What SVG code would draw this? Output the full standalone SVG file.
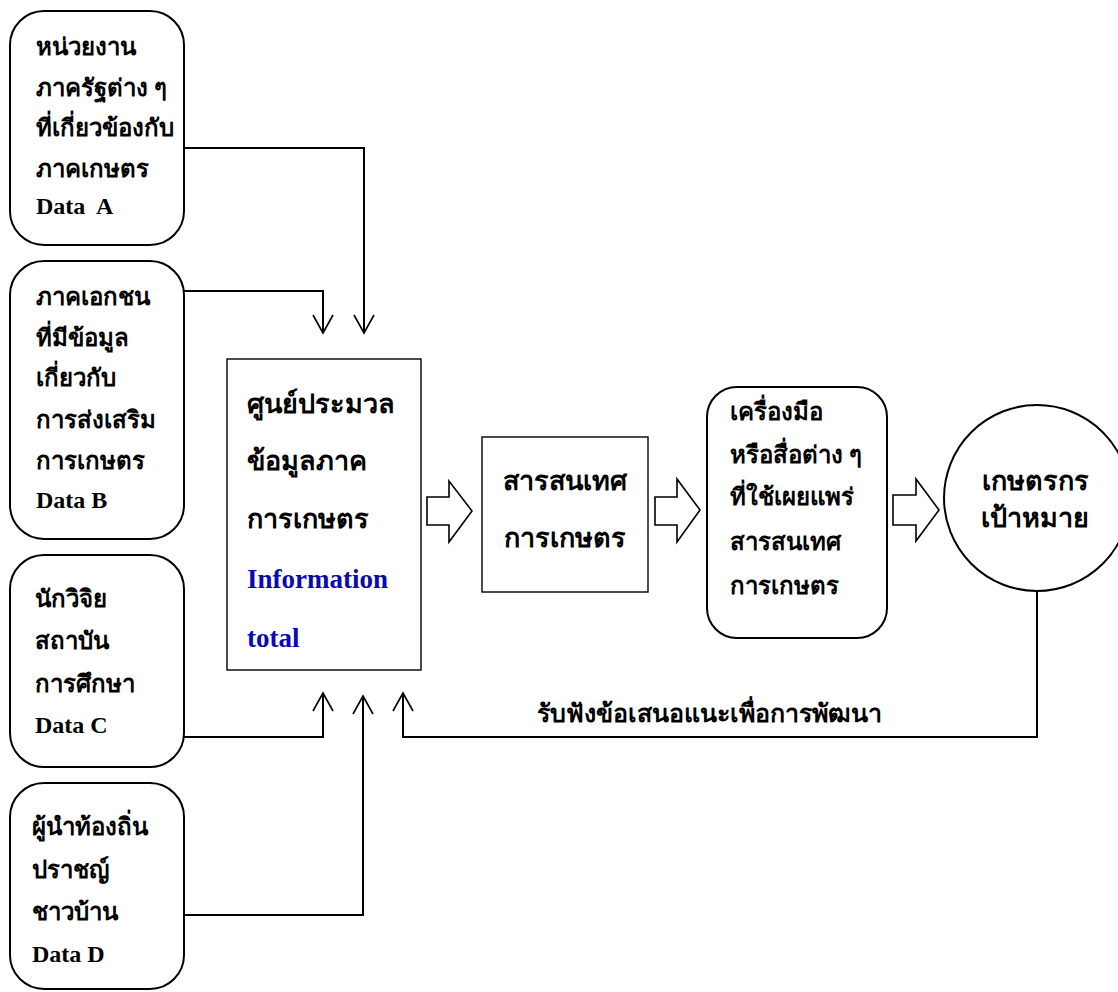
<svg xmlns="http://www.w3.org/2000/svg" width="1118" height="992" viewBox="0 0 1118 992">
  <style>
    .node { fill: #ffffff; stroke: #000000; }
    .rounded { stroke-width: 2; }
    .plain { stroke-width: 1.4; }
    .t { font-family: "Liberation Serif", "Times New Roman", serif; font-weight: bold; fill: #000000; }
    .s { font-size: 24px; }
    .l { font-size: 25px; }
    .m { font-size: 27px; }
    .blue { fill: #0a0ab4; }
    .wire { fill: none; stroke: #000000; stroke-width: 2; }
    .block { fill: #ffffff; stroke: #000000; stroke-width: 1.6; stroke-linejoin: miter; }
  </style>
  <defs>
    <marker id="open" markerUnits="userSpaceOnUse" viewBox="-20 -12 22 24" refX="0" refY="0" markerWidth="22" markerHeight="24" orient="auto">
      <path d="M-18,-10 L0,0 L-18,10" fill="none" stroke="#000000" stroke-width="1.6"/>
    </marker>
  </defs>

  <rect width="1118" height="992" fill="#ffffff"/>

  <!-- source nodes -->
  <g id="source-gov">
    <rect class="node rounded" x="10" y="11" width="174" height="234" rx="34" ry="34"/>
    <text class="t s" x="36" y="55">หน่วยงาน</text>
    <text class="t s" x="36" y="96">ภาครัฐต่าง ๆ</text>
    <text class="t s" x="36" y="136">ที่เกี่ยวข้องกับ</text>
    <text class="t s" x="36" y="177">ภาคเกษตร</text>
    <text class="t s" x="36" y="214" xml:space="preserve">Data  A</text>
  </g>

  <g id="source-private">
    <rect class="node rounded" x="10" y="261" width="174" height="278" rx="34" ry="34"/>
    <text class="t s" x="36" y="305">ภาคเอกชน</text>
    <text class="t s" x="36" y="346">ที่มีข้อมูล</text>
    <text class="t s" x="36" y="386">เกี่ยวกับ</text>
    <text class="t s" x="36" y="428">การส่งเสริม</text>
    <text class="t s" x="36" y="469">การเกษตร</text>
    <text class="t s" x="36" y="508">Data B</text>
  </g>

  <g id="source-research">
    <rect class="node rounded" x="10" y="555" width="174" height="212" rx="34" ry="34"/>
    <text class="t s" x="35" y="607">นักวิจิย</text>
    <text class="t s" x="35" y="649">สถาบัน</text>
    <text class="t s" x="35" y="692">การศึกษา</text>
    <text class="t s" x="35" y="733">Data C</text>
  </g>

  <g id="source-local">
    <rect class="node rounded" x="10" y="783" width="174" height="206" rx="34" ry="34"/>
    <text class="t s" x="32" y="835">ผู้นำท้องถิ่น</text>
    <text class="t s" x="32" y="878">ปราชญ์</text>
    <text class="t s" x="32" y="920">ชาวบ้าน</text>
    <text class="t s" x="32" y="962">Data D</text>
  </g>

  <!-- processing centre -->
  <g id="centre">
    <rect class="node plain" x="227" y="359" width="194" height="311"/>
    <text class="t m" x="247" y="413">ศูนย์ประมวล</text>
    <text class="t m" x="247" y="470">ข้อมูลภาค</text>
    <text class="t m" x="247" y="528">การเกษตร</text>
    <text class="t m blue" x="247" y="588">Information</text>
    <text class="t m blue" x="247" y="647">total</text>
  </g>

  <g id="information">
    <rect class="node plain" x="482" y="437" width="166" height="155"/>
    <text class="t m" x="565" y="490" text-anchor="middle">สารสนเทศ</text>
    <text class="t m" x="565" y="547" text-anchor="middle">การเกษตร</text>
  </g>

  <g id="media">
    <rect class="node rounded" x="707" y="387" width="180" height="251" rx="30" ry="30"/>
    <text class="t s" x="730" y="420">เครื่องมือ</text>
    <text class="t s" x="730" y="463">หรือสื่อต่าง ๆ</text>
    <text class="t s" x="730" y="505">ที่ใช้เผยแพร่</text>
    <text class="t s" x="730" y="550">สารสนเทศ</text>
    <text class="t s" x="730" y="594">การเกษตร</text>
  </g>

  <g id="farmers">
    <circle class="node rounded" cx="1037" cy="498" r="93"/>
    <text class="t m" x="1035" y="490" text-anchor="middle">เกษตรกร</text>
    <text class="t m" x="1035" y="527" text-anchor="middle">เป้าหมาย</text>
  </g>

  <!-- connectors -->
  <g id="connectors">
    <path class="wire" d="M184,148 H364 V333" marker-end="url(#open)"/>
    <path class="wire" d="M184,291 H323 V333" marker-end="url(#open)"/>
    <path class="wire" d="M184,737 H323 V693" marker-end="url(#open)"/>
    <path class="wire" d="M184,915 H363 V696" marker-end="url(#open)"/>
    <path class="wire" d="M1037,591 V737 H403 V693" marker-end="url(#open)"/>
    <path class="block" d="M427,497 H449 V481 L472,511 L449,542 V525 H427 Z"/>
    <path class="block" d="M655,497 H677 V479 L700,510 L677,542 V525 H655 Z"/>
    <path class="block" d="M893,495 H916 V479 L939,510 L916,541 V525 H893 Z"/>
    <text class="t l" x="537" y="722">รับฟังข้อเสนอแนะเพื่อการพัฒนา</text>
  </g>
</svg>
